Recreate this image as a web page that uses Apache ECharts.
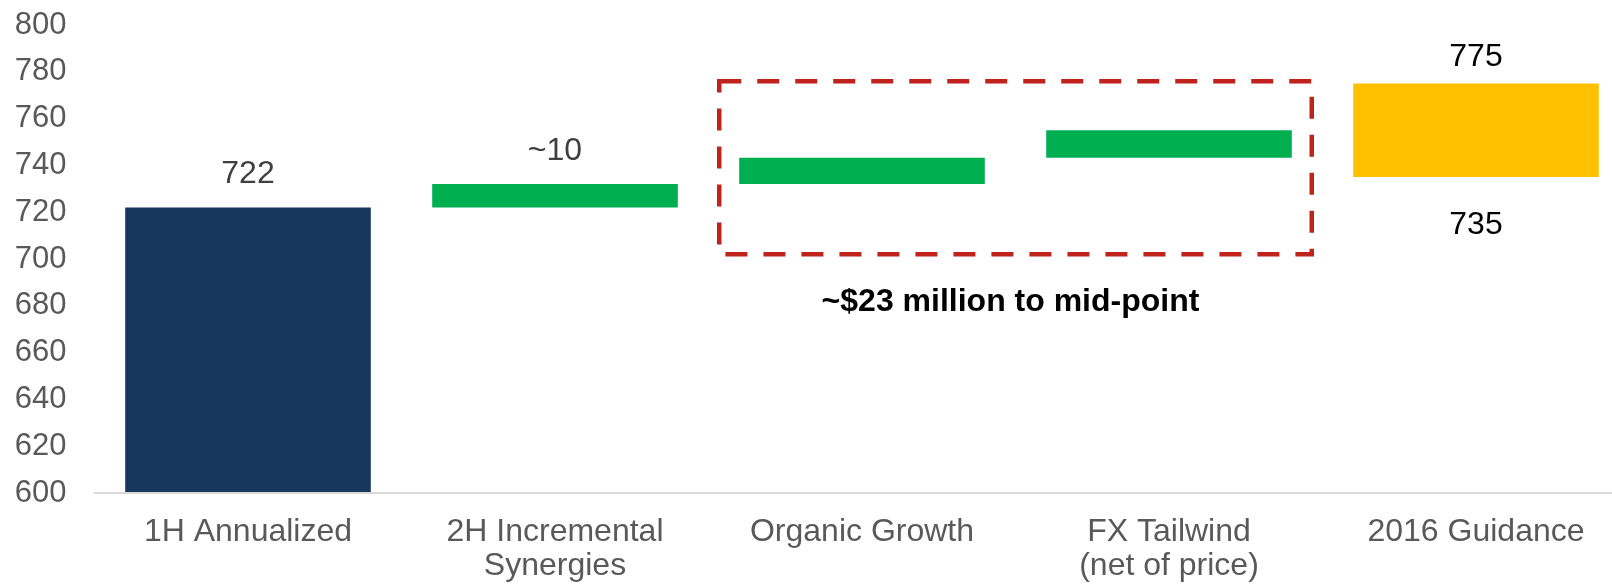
<!DOCTYPE html>
<html>
<head>
<meta charset="utf-8">
<title>2016 Guidance bridge</title>
<script src="https://cdn.jsdelivr.net/npm/echarts@6/dist/echarts.min.js"></script>
<style>
  html, body { margin: 0; padding: 0; background: #fff; overflow: hidden; }
  /* a bit wider than the window: the last bar's slot runs off the right edge */
  #chart { width: 1630px; height: 584px; }
</style>
</head>
<body>
<div id="chart"></div>
<script>
/* global echarts */

// bridge steps
const categories = [
  '1H Annualized',
  '2H Incremental\nSynergies',
  'Organic Growth',
  'FX Tailwind\n(net of price)',
  '2016 Guidance',
];
// where each floating bar starts, and how tall it is
const baseValues = [0, 722, 732, 743.3, 735];
const deltaValues = [722, 10, 11.3, 11.7, 40];
const upperLabels = ['722', '~10', '', '', '775'];
const lowerLabels = ['', '', '', '', '735'];
const barColors = ['#17375E', '#00B050', '#00B050', '#00B050', '#FFC000'];

const yTicks = { min: 600, max: 800, step: 20 };

// dashed box round the organic + fx steps: [from category, to category, low, high]
const boxRange = [[2, 3, 702, 776]];
const boxNote = '~$23 million to mid-point';

const font = '"Liberation Sans", Arial, sans-serif';

const myChart = echarts.init(document.getElementById('chart'), null, { renderer: 'canvas' });

const option = {
  animation: false,
  textStyle: { fontFamily: font },
  grid: {
    left: 94.5,
    right: 0.5,
    top: 25,
    bottom: 91,
    containLabel: false,
  },
  xAxis: {
    type: 'category',
    data: categories,
    z: 3,
    axisTick: { show: false },
    axisLine: { lineStyle: { color: '#D9D9D9', width: 2 } },
    axisLabel: {
      color: '#595959',
      fontSize: 32,
      lineHeight: 34,
      margin: 22,
      interval: 0,
    },
  },
  yAxis: {
    type: 'value',
    min: yTicks.min,
    max: yTicks.max,
    interval: yTicks.step,
    axisLine: { show: false },
    axisTick: { show: false },
    splitLine: { show: false },
    axisLabel: {
      color: '#595959',
      fontSize: 31,
      margin: 28,
    },
  },
  series: [
    {
      // invisible base, only carries the label under the guidance bar
      name: 'base',
      type: 'bar',
      stack: 'total',
      barWidth: '80%',
      silent: true,
      itemStyle: { color: 'transparent' },
      label: {
        show: true,
        position: 'insideTop',
        distance: 32,
        fontSize: 32,
        color: '#000',
        formatter: (p) => lowerLabels[p.dataIndex],
      },
      data: baseValues,
    },
    {
      name: 'step',
      type: 'bar',
      stack: 'total',
      barWidth: '80%',
      data: deltaValues.map((v, i) => ({
        value: v,
        itemStyle: { color: barColors[i] },
        label: {
          show: upperLabels[i] !== '',
          position: 'top',
          distance: i === 4 ? 10 : 17,
          fontSize: 32,
          color: i === 4 ? '#000' : '#404040',
          formatter: upperLabels[i],
        },
      })),
    },
    {
      name: 'box',
      type: 'custom',
      silent: true,
      z: 5,
      encode: { x: [0, 1], y: [2, 3] },
      renderItem(params, api) {
        const topLeft = api.coord([api.value(0), api.value(3)]);
        const bottomRight = api.coord([api.value(1), api.value(2)]);
        const half = api.size([1, 0])[0] * 0.465;
        const x0 = topLeft[0] - half;
        const x1 = bottomRight[0] + half;
        return {
          type: 'group',
          children: [
            {
              type: 'rect',
              shape: {
                x: x0,
                y: topLeft[1],
                width: x1 - x0,
                height: bottomRight[1] - topLeft[1],
              },
              style: {
                fill: 'none',
                stroke: '#C0231B',
                lineWidth: 4.5,
                lineDash: [22, 16],
              },
            },
            {
              type: 'text',
              x: (x0 + x1) / 2 - 5,
              y: bottomRight[1] + 48,
              style: {
                text: boxNote,
                fill: '#000',
                font: `bold 32px ${font}`,
                align: 'center',
                verticalAlign: 'middle',
              },
            },
          ],
        };
      },
      data: boxRange,
    },
  ],
};

if (option && typeof option === 'object') {
  myChart.setOption(option, true);
}
</script>
</body>
</html>
